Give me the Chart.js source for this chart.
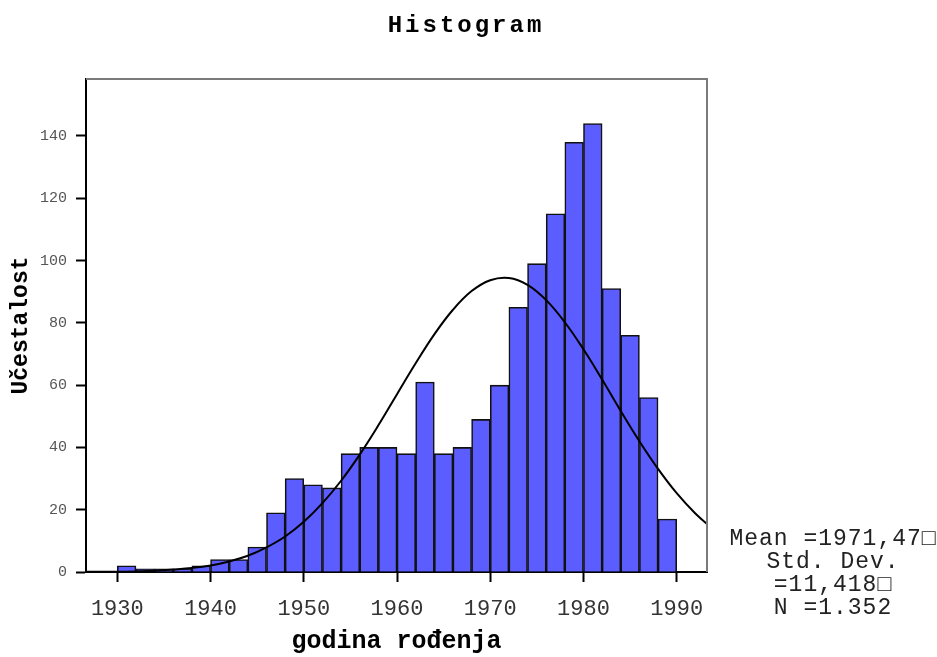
<!DOCTYPE html>
<html>
<head>
<meta charset="utf-8">
<title>Histogram</title>
<script src="https://cdn.jsdelivr.net/npm/chart.js@4.4.0/dist/chart.umd.min.js"></script>
<style>
  body { margin: 0; background: #fff; }
  canvas { display: block; }
</style>
</head>
<body>
<canvas id="histogram" width="937" height="657"></canvas>
<script>
// 2-year bins, value = centre of the bin
const binCenters = [1931, 1933, 1935, 1937, 1939, 1941, 1943, 1945, 1947, 1949,
                    1951, 1953, 1955, 1957, 1959, 1961, 1963, 1965, 1967, 1969,
                    1971, 1973, 1975, 1977, 1979, 1981, 1983, 1985, 1987, 1989];
const counts = [2, 1, 1, 1, 2, 4, 4, 8, 19, 30,
                28, 27, 38, 40, 40, 38, 61, 38, 40, 49,
                60, 85, 99, 115, 138, 144, 91, 76, 56, 17];

// normal curve
const curveYears = [1926, 1928, 1930, 1932, 1934, 1936, 1938, 1940, 1942, 1944, 1946, 1948,
                    1950, 1952, 1954, 1956, 1958, 1960, 1962, 1964, 1966, 1968, 1970, 1972,
                    1974, 1976, 1978, 1980, 1982, 1984, 1986, 1988, 1990, 1992, 1994];
const curveValues = [0.0, 0.1, 0.1, 0.2, 0.4, 0.8, 1.3, 2.1, 3.4, 5.2, 7.9, 11.4,
                     16.1, 22.1, 29.3, 37.7, 47.1, 57.1, 67.0, 76.3, 84.2, 90.2, 93.7, 94.4,
                     92.2, 87.3, 80.2, 71.5, 61.8, 51.7, 42.0, 33.1, 25.3, 18.8, 13.5];

const xTicks = [1930, 1940, 1950, 1960, 1970, 1980, 1990];
const yTicks = [0, 20, 40, 60, 80, 100, 120, 140];

const titleText = 'Histogram';
const statLines = ['Mean =1971,47\u25A1', 'Std. Dev.', '=11,418\u25A1', 'N =1.352'];

const mono = '"Liberation Mono", "DejaVu Sans Mono", monospace';

// frame (grey top/right), title and the stats box
const decorations = {
    id: 'decorations',
    afterDraw(chart) {
        const {ctx, chartArea: a} = chart;
        ctx.save();
        ctx.strokeStyle = '#7a7a7a';
        ctx.lineWidth = 2;
        ctx.beginPath();
        ctx.moveTo(a.left, a.top);
        ctx.lineTo(a.right, a.top);
        ctx.lineTo(a.right, a.bottom);
        ctx.stroke();

        ctx.fillStyle = '#000';
        ctx.textAlign = 'center';
        ctx.textBaseline = 'alphabetic';
        ctx.font = 'bold 24px ' + mono;
        ctx.letterSpacing = '3px';
        ctx.fillText(titleText, 466, 32);

        ctx.fillStyle = '#222';
        ctx.font = '23px ' + mono;
        ctx.letterSpacing = '1px';
        statLines.forEach((s, i) => ctx.fillText(s, 833, 545 + i * 23));
        ctx.restore();
    }
};

new Chart(document.getElementById('histogram'), {
    type: 'bar',
    data: {
        datasets: [{
            type: 'bar',
            data: binCenters.map((x, i) => ({x: x, y: counts[i]})),
            backgroundColor: '#5b5dff',
            borderColor: '#111',
            borderWidth: 1.6,
            barPercentage: 1,
            categoryPercentage: 1,
            order: 2
        }, {
            type: 'line',
            data: curveYears.map((x, i) => ({x: x, y: curveValues[i]})),
            borderColor: '#000',
            borderWidth: 2,
            pointRadius: 0,
            tension: 0.4,
            fill: false,
            order: 1
        }]
    },
    options: {
        responsive: false,
        devicePixelRatio: 1,
        animation: false,
        layout: { padding: { top: 79, right: 230, left: 0, bottom: 0 } },
        plugins: {
            legend: { display: false },
            tooltip: { enabled: false },
            title: { display: false }
        },
        scales: {
            x: {
                type: 'linear',
                min: 1926.64,
                max: 1993.25,
                offset: false,
                afterFit: s => { s.height = 85; },
                afterBuildTicks: s => { s.ticks = xTicks.map(v => ({value: v})); },
                grid: { offset: false, drawOnChartArea: false, tickLength: 10, tickColor: '#000', tickWidth: 2 },
                border: { color: '#000', width: 2 },
                ticks: {
                    color: '#333',
                    font: { family: mono, size: 22 },
                    padding: 14,
                    maxRotation: 0,
                    autoSkip: false,
                    callback: v => String(v)
                },
                title: {
                    display: true,
                    text: 'godina rođenja',
                    color: '#000',
                    font: { family: mono, size: 25, weight: 'bold' },
                    padding: 0
                }
            },
            y: {
                min: 0,
                max: 158.3,
                afterFit: s => { s.width = 86; },
                afterBuildTicks: s => { s.ticks = yTicks.map(v => ({value: v})); },
                grid: { drawOnChartArea: false, tickLength: 10, tickColor: '#000', tickWidth: 2 },
                border: { color: '#000', width: 2 },
                ticks: {
                    color: '#555',
                    font: { family: mono, size: 15 },
                    padding: 9,
                    callback: v => String(v)
                },
                title: {
                    display: true,
                    text: 'Učestalost',
                    color: '#000',
                    font: { family: mono, size: 23, weight: 'bold' },
                    padding: { top: 7, bottom: 0 }
                }
            }
        }
    },
    plugins: [decorations]
});
</script>
</body>
</html>
